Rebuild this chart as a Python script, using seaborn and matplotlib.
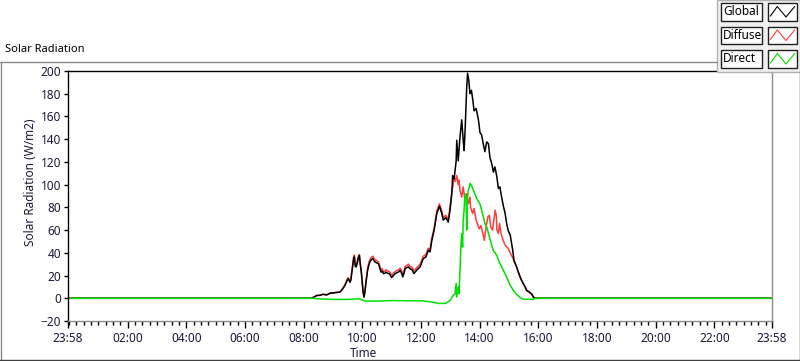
import numpy as np
import pandas as pd
import matplotlib
matplotlib.use("Agg")
import matplotlib.pyplot as plt
from matplotlib.lines import Line2D
from matplotlib.patches import Rectangle
import seaborn as sns

# --- Data (hours of day, W/m2) ---
series_names = ["Global", "Diffuse", "Direct"]
series_colors = ["#000000", "#ff3b3b", "#00e000"]

global_t = [-0.033, 8.25, 8.35, 8.45, 8.56, 8.65, 8.79, 8.9, 9.0, 9.1, 9.24, 9.32, 9.41, 9.47,
            9.52, 9.58, 9.61, 9.67, 9.70, 9.73, 9.76, 9.79, 9.83, 9.87, 9.90, 9.93, 9.96, 10.0,
            10.03, 10.06, 10.09, 10.12, 10.18, 10.22, 10.26, 10.31, 10.36, 10.40, 10.43, 10.50,
            10.55, 10.60, 10.64, 10.68, 10.72, 10.77, 10.81, 10.86, 10.92, 10.96, 11.0, 11.06,
            11.12, 11.18, 11.23, 11.29, 11.34, 11.38, 11.42, 11.46, 11.52, 11.57, 11.63, 11.70,
            11.76, 11.86, 11.97, 12.08, 12.17, 12.25, 12.31, 12.37, 12.45, 12.54, 12.63, 12.71,
            12.76, 12.85, 12.93, 12.99, 13.05, 13.08, 13.13, 13.20, 13.22, 13.27, 13.33, 13.39,
            13.44, 13.47, 13.50, 13.54, 13.56, 13.59, 13.63, 13.67, 13.72, 13.77, 13.81, 13.88,
            13.96, 14.01, 14.07, 14.13, 14.18, 14.24, 14.30, 14.35, 14.41, 14.47, 14.52, 14.58,
            14.64, 14.69, 14.75, 14.81, 14.87, 14.92, 14.98, 15.04, 15.13, 15.17, 15.26, 15.32,
            15.38, 15.43, 15.49, 15.55, 15.60, 15.69, 15.78, 15.83, 15.89, 23.967]
global_v = [0, 0, 1, 2.5, 2.6, 3.5, 3, 4.5, 4.7, 5, 5.5, 8, 11.4, 15,
            17.3, 14, 16, 27.6, 34, 36.4, 28, 27.6, 31, 36, 37.8, 30, 24.6, 12.9,
            5, 1.1, 6, 12.9, 24.6, 29, 32, 34, 35, 33, 32, 31,
            30.5, 26, 23, 24, 21.7, 22, 23, 22, 21.7, 20, 18.2, 20,
            21.7, 22.5, 23, 24.6, 22, 18.8, 22, 26, 27, 27.6, 26, 25,
            21.7, 24.9, 27.6, 35, 36.4, 42.3, 40.8, 51, 60, 74.6, 81, 74.6,
            68.7, 71, 67, 77.5, 92, 108, 105, 121, 139, 121, 142, 157,
            139, 130, 145, 171, 186, 198, 192, 180, 183, 174, 165, 167,
            157, 146, 143.5, 135, 129, 137.6, 136, 124, 118.6, 111, 115.6, 108,
            96.6, 98, 89, 81, 74.6, 65.8, 59, 56, 42, 33.5, 27.6, 23,
            18.8, 15.8, 12.9, 10, 7, 5.5, 3.5, 1.1, 0, 0]

diffuse_t = [-0.033, 8.25, 8.35, 8.45, 8.56, 8.65, 8.79, 8.9, 9.0, 9.1, 9.24, 9.32, 9.41, 9.47,
             9.52, 9.58, 9.61, 9.67, 9.70, 9.73, 9.76, 9.79, 9.83, 9.87, 9.90, 9.93, 9.96, 10.0,
             10.03, 10.06, 10.09, 10.12, 10.18, 10.22, 10.26, 10.31, 10.36, 10.40, 10.43, 10.50,
             10.55, 10.60, 10.64, 10.68, 10.72, 10.77, 10.81, 10.86, 10.92, 10.96, 11.0, 11.06,
             11.12, 11.18, 11.23, 11.29, 11.34, 11.38, 11.42, 11.46, 11.52, 11.57, 11.63, 11.70,
             11.76, 11.86, 11.97, 12.08, 12.17, 12.25, 12.31, 12.37, 12.45, 12.54, 12.63, 12.71,
             12.76, 12.85, 12.93, 12.99, 13.05, 13.10, 13.13, 13.17, 13.22, 13.27, 13.30, 13.33,
             13.39, 13.44, 13.50, 13.56, 13.61, 13.67, 13.69, 13.76, 13.81, 13.88, 13.92, 13.99,
             14.04, 14.11, 14.16, 14.22, 14.28, 14.33, 14.38, 14.44, 14.50, 14.53, 14.57, 14.59,
             14.64, 14.68, 14.73, 14.80, 14.87, 14.98, 15.04, 15.12, 15.20, 15.26, 15.32, 15.38,
             15.43, 15.49, 15.55, 15.60, 15.69, 15.78, 15.83, 15.89, 23.967]
diffuse_v = [0, 0, 1, 2.5, 2.6, 3.5, 3, 4.5, 4.7, 5, 5.5, 8, 12, 16,
             18, 15, 17, 29, 36, 38, 30, 29, 33, 37, 38.5, 31, 25.5, 13,
             5, 1.1, 6, 13.5, 26, 31, 34, 36, 37, 35, 34, 33,
             32, 28, 25, 26, 23.5, 24, 25, 24, 23.5, 22, 20, 22,
             23.5, 24.5, 25, 26.5, 24, 21, 24, 28, 29, 30, 28, 27,
             24, 27, 30, 37, 38.5, 44, 43, 53, 62, 77, 83, 77,
             71, 73, 69, 80, 93, 100, 106, 103, 108, 100, 104, 95,
             89, 98, 86, 92, 83, 89, 80, 74.6, 79, 68.7, 65.8, 61,
             64, 57, 51, 62.8, 71.6, 73, 62.8, 60, 71.6, 77.5, 72, 60,
             57, 65.8, 57, 51, 46.7, 43.7, 40, 36, 31, 27.6, 23, 18.8,
             15.8, 12.9, 10, 7, 5.5, 3.5, 1.1, 0, 0]

direct_t = [-0.033, 8.3, 8.5, 9.0, 9.5, 9.9, 10.0, 10.1, 10.5, 11.0, 11.5, 12.0, 12.3, 12.6,
            12.85, 12.99, 13.10, 13.16, 13.20, 13.22, 13.27, 13.30, 13.33, 13.36, 13.39, 13.42,
            13.44, 13.47, 13.50, 13.54, 13.56, 13.58, 13.61, 13.65, 13.67, 13.72, 13.81, 13.90,
            14.01, 14.07, 14.13, 14.18, 14.24, 14.30, 14.35, 14.41, 14.47, 14.58, 14.69, 14.81,
            14.92, 15.04, 15.15, 15.26, 15.38, 15.49, 15.83, 15.89, 23.967]
direct_v = [0, 0, -0.5, -1, -1, -0.5, -1.5, -2.5, -2.5, -2, -2.2, -2.2, -3, -4.5,
            -4.5, -2, 2.6, 4, 13, 1, 10, 4, 24.6, 45, 57, 45,
            68.7, 77.5, 92, 83, 60, 86, 95, 98, 101, 99.5, 93.6, 87.7,
            83, 77.5, 71.6, 65.8, 62.8, 57, 52.5, 46.7, 42, 38, 30.5, 24.6,
            18.8, 11.4, 7, 3.5, 0.6, -0.9, -0.9, 0, 0]

major_ticks = [-0.033, 2, 4, 6, 8, 10, 12, 14, 16, 18, 20, 22, 23.967]
major_labels = ["23:58", "02:00", "04:00", "06:00", "08:00", "10:00", "12:00",
                "14:00", "16:00", "18:00", "20:00", "22:00", "23:58"]
y_ticks = list(range(-20, 201, 20))

# --- Build long-form table ---
df = pd.concat([
    pd.DataFrame({"Time": global_t, "Value": global_v, "Series": "Global"}),
    pd.DataFrame({"Time": diffuse_t, "Value": diffuse_v, "Series": "Diffuse"}),
    pd.DataFrame({"Time": direct_t, "Value": direct_v, "Series": "Direct"}),
], ignore_index=True)

sns.set_style("white")
plt.rcParams['font.family'] = ['Noto Sans', 'DejaVu Sans']
text_col = "#1a1a3a"

W, H = 800, 361
fig = plt.figure(figsize=(W / 100, H / 100), dpi=100)
ax = fig.add_axes([68 / W, 40 / H, 704 / W, 250 / H])

# diffuse drawn first so the global trace stays visible where they overlap
sns.lineplot(data=df, x="Time", y="Value", hue="Series",
             hue_order=["Diffuse", "Global", "Direct"],
             palette=dict(zip(series_names, series_colors)), estimator=None,
             sort=False, legend=False, lw=1.1, ax=ax)

ax.set_xlim(major_ticks[0], major_ticks[-1])
ax.set_ylim(-20, 200)
ax.set_xticks(major_ticks)
ax.set_xticklabels(major_labels)
ax.set_xticks([m for m in np.arange(0, 24, 0.25) if m % 2 != 0 or m == 0], minor=True)
ax.set_yticks(y_ticks)
ax.tick_params(axis="x", which="major", direction="out", length=5, width=1,
               colors="black", labelcolor=text_col, labelsize=8.5, pad=3)
ax.tick_params(axis="x", which="minor", direction="out", length=3, width=1, colors="black")
ax.tick_params(axis="y", direction="out", length=3, width=1, colors="black",
               labelcolor=text_col, labelsize=8.5, pad=2)
ax.tick_params(bottom=True, left=True, which="both")

ax.set_xlabel("Time", fontsize=8.5, color=text_col)
ax.xaxis.set_label_coords((364 - 68) / 704, -0.105)
ax.set_ylabel("Solar Radiation (W/m2)", fontsize=8.5, color=text_col)
ax.yaxis.set_label_coords(-0.044, 0.555)

for side in ["left", "top"]:
    ax.spines[side].set_color("black")
    ax.spines[side].set_linewidth(1)
for side in ["right", "bottom"]:
    ax.spines[side].set_color("#8a8a8a")
    ax.spines[side].set_linewidth(1)


def fx(x):
    return x / W


def fy(y):
    return 1 - y / H


# panel frame
fig.add_artist(Line2D([fx(0), fx(717)], [fy(61.5), fy(61.5)], color="#8a8a8a", lw=1))
fig.add_artist(Line2D([fx(0.5), fx(0.5)], [fy(61.5), fy(361)], color="#8a8a8a", lw=1))
fig.add_artist(Line2D([fx(0), fx(800)], [fy(360), fy(360)], color="#404040", lw=1))
fig.add_artist(Line2D([fx(799.5), fx(799.5)], [fy(72), fy(361)], color="#404040", lw=1))

# panel title
fig.text(fx(5), fy(50), "Solar Radiation", fontsize=8, color="black", va="center", ha="left")

# legend box
fig.add_artist(Rectangle((fx(717), fy(72)), 83 / W, 72 / H, transform=fig.transFigure,
                         fc="#f0f0f0", ec="#b0b0b0", lw=1))
zig_x = [0.08, 0.32, 0.62, 0.92]
zig_y = [0.25, 0.8, 0.2, 0.8]
for i, (name, col) in enumerate(zip(series_names, series_colors)):
    top = 3 + 23.5 * i
    h = 17.5
    fig.add_artist(Rectangle((fx(721), fy(top + h)), 41 / W, h / H, transform=fig.transFigure,
                             fc="white", ec="#202020", lw=1))
    fig.add_artist(Rectangle((fx(768), fy(top + h)), 29 / W, h / H, transform=fig.transFigure,
                             fc="white", ec="#202020", lw=1))
    fig.text(fx(723), fy(top + h / 2), name, fontsize=8.5, color="black", va="center", ha="left")
    fig.add_artist(Line2D([fx(768 + 29 * zx) for zx in zig_x],
                          [fy(top + h) + (h / H) * zy for zy in zig_y],
                          color=col, lw=0.8))

fig.savefig("out.png", dpi=100, facecolor="white")
